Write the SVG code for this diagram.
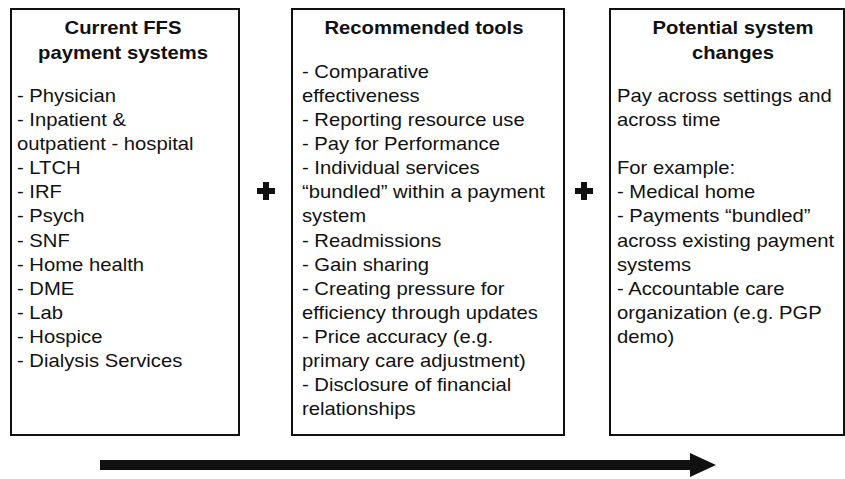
<svg xmlns="http://www.w3.org/2000/svg" width="845" height="479" viewBox="0 0 845 479">
<style>
.box{fill:#fff;stroke:#111;stroke-width:2}
.t{font-family:"Liberation Sans",Arial,sans-serif;font-size:18px;fill:#111}
.h{font-family:"Liberation Sans",Arial,sans-serif;font-size:18px;font-weight:bold;fill:#111;text-anchor:middle}
.op{fill:#111}
</style>
<rect width="845" height="479" fill="#fff"/>
<g id="node-current">
<rect class="box" x="11" y="9" width="228" height="426"/>
<g transform="translate(123 0) scale(1.125 1)">
<text class="h" x="0" y="34">Current FFS</text>
<text class="h" x="0" y="59">payment systems</text>
</g>
<g transform="translate(17 0) scale(1.125 1)">
<text class="t" x="0" y="102">- Physician</text>
<text class="t" x="0" y="126">- Inpatient &amp;</text>
<text class="t" x="0" y="150">outpatient - hospital</text>
<text class="t" x="0" y="174.3">- LTCH</text>
<text class="t" x="0" y="198.4">- IRF</text>
<text class="t" x="0" y="222.5">- Psych</text>
<text class="t" x="0" y="246.6">- SNF</text>
<text class="t" x="0" y="270.7">- Home health</text>
<text class="t" x="0" y="294.8">- DME</text>
<text class="t" x="0" y="318.9">- Lab</text>
<text class="t" x="0" y="343">- Hospice</text>
<text class="t" x="0" y="367.1">- Dialysis Services</text>
</g>
</g>
<g id="node-tools">
<rect class="box" x="292" y="9" width="272" height="426"/>
<g transform="translate(424 0) scale(1.125 1)">
<text class="h" x="0" y="34">Recommended tools</text>
</g>
<g transform="translate(302 0) scale(1.125 1)">
<text class="t" x="0" y="78">- Comparative</text>
<text class="t" x="0" y="102">effectiveness</text>
<text class="t" x="0" y="126">- Reporting resource use</text>
<text class="t" x="0" y="150">- Pay for Performance</text>
<text class="t" x="0" y="174.3">- Individual services</text>
<text class="t" x="0" y="198.4">“bundled” within a payment</text>
<text class="t" x="0" y="222.5">system</text>
<text class="t" x="0" y="246.6">- Readmissions</text>
<text class="t" x="0" y="270.7">- Gain sharing</text>
<text class="t" x="0" y="294.8">- Creating pressure for</text>
<text class="t" x="0" y="318.9">efficiency through updates</text>
<text class="t" x="0" y="343">- Price accuracy (e.g.</text>
<text class="t" x="0" y="367.1">primary care adjustment)</text>
<text class="t" x="0" y="391.2">- Disclosure of financial</text>
<text class="t" x="0" y="415.3">relationships</text>
</g>
</g>
<g id="node-potential">
<rect class="box" x="610" y="9" width="234" height="426"/>
<g transform="translate(733 0) scale(1.125 1)">
<text class="h" x="0" y="34">Potential system</text>
<text class="h" x="0" y="59">changes</text>
</g>
<g transform="translate(617 0) scale(1.125 1)">
<text class="t" x="0" y="102">Pay across settings and</text>
<text class="t" x="0" y="126">across time</text>
<text class="t" x="0" y="174.3">For example:</text>
<text class="t" x="0" y="198.4">- Medical home</text>
<text class="t" x="0" y="222.5">- Payments “bundled”</text>
<text class="t" x="0" y="246.6">across existing payment</text>
<text class="t" x="0" y="270.7">systems</text>
<text class="t" x="0" y="294.8">- Accountable care</text>
<text class="t" x="0" y="318.9">organization (e.g. PGP</text>
<text class="t" x="0" y="343">demo)</text>
</g>
</g>
<g id="operators">
<path class="op" d="M263,182 h6 v6 h6 v6 h-6 v6 h-6 v-6 h-6 v-6 h6 z"/>
<path class="op" d="M581,182 h6 v6 h6 v6 h-6 v6 h-6 v-6 h-6 v-6 h6 z"/>
</g>
<g id="connectors">
<path class="op" d="M100,460 H690 V453 L716,465 L690,477 V470 H100 Z"/>
</g>
</svg>
